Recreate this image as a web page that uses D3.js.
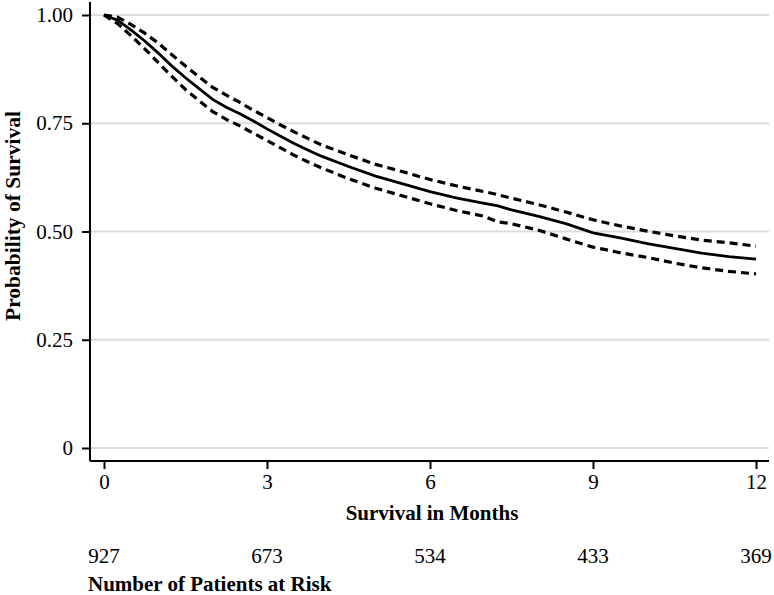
<!DOCTYPE html>
<html>
<head>
<meta charset="utf-8">
<script src="https://cdn.jsdelivr.net/npm/d3@7"></script>
<style>
  html, body { margin: 0; padding: 0; background: #fff; }
  svg { display: block; font-family: "Liberation Serif", "Times New Roman", serif; }
</style>
</head>
<body>
<script>
// ---- Data ----
const months = [0, 0.25, 0.5, 0.75, 1, 1.25, 1.5, 1.75, 2, 2.25, 2.5, 2.75, 3, 3.25, 3.5, 3.75, 4,
                4.5, 5, 5.5, 6, 6.5, 7, 7.25, 7.5, 8, 8.5, 9, 9.5, 10, 10.5, 11, 11.5, 12];
const survival = [1.0, 0.988, 0.965, 0.94, 0.912, 0.882, 0.855, 0.83, 0.805, 0.787, 0.772, 0.755, 0.737, 0.72, 0.703, 0.688, 0.674,
                  0.65, 0.628, 0.61, 0.592, 0.577, 0.565, 0.559, 0.55, 0.535, 0.518, 0.497, 0.485, 0.472, 0.461, 0.45, 0.442, 0.436];
const upperCI = [1.0, 0.995, 0.978, 0.958, 0.935, 0.908, 0.882, 0.857, 0.833, 0.815, 0.798, 0.78, 0.763, 0.746, 0.73, 0.715, 0.70,
                 0.677, 0.655, 0.638, 0.62, 0.605, 0.592, 0.585, 0.577, 0.562, 0.545, 0.527, 0.513, 0.501, 0.49, 0.48, 0.474, 0.466];
const lowerCI = [1.0, 0.98, 0.952, 0.922, 0.89, 0.858, 0.828, 0.802, 0.777, 0.759, 0.744, 0.727, 0.71, 0.693, 0.676, 0.661, 0.647,
                 0.622, 0.60, 0.582, 0.564, 0.548, 0.535, 0.522, 0.518, 0.503, 0.483, 0.464, 0.451, 0.44, 0.427, 0.416, 0.408, 0.402];
const xTicks = [0, 3, 6, 9, 12];
const yTicks = [0, 0.25, 0.5, 0.75, 1];
const yTickLabels = ["0", "0.25", "0.50", "0.75", "1.00"];
const atRisk = [927, 673, 534, 433, 369];

const W = 774, H = 595;
const svg = d3.select("body").append("svg").attr("width", W).attr("height", H);

const x = d3.scaleLinear().domain([0, 12]).range([104, 756]);
const y = d3.scaleLinear().domain([0, 1]).range([448, 15]);
const axisLeftX = 90, axisBottomY = 461, plotRight = 769, plotTop = 2;

// gridlines
svg.append("g").selectAll("line").data(yTicks).join("line")
  .attr("x1", axisLeftX).attr("x2", plotRight)
  .attr("y1", d => y(d)).attr("y2", d => y(d))
  .attr("stroke", "#dcdcdc").attr("stroke-width", 2);

// y axis
const yAxis = d3.axisLeft(y).tickValues(yTicks).tickSize(8).tickSizeOuter(0)
  .tickFormat((d, i) => yTickLabels[i]);
const gy = svg.append("g").attr("transform", `translate(${axisLeftX},0)`).call(yAxis);
gy.select(".domain").attr("d", `M0,${plotTop}V${axisBottomY}`).attr("stroke", "#000").attr("stroke-width", 2);
gy.selectAll(".tick line").attr("stroke", "#000").attr("stroke-width", 2);
gy.selectAll(".tick text").attr("x", -17).attr("font-size", 21).attr("fill", "#000")
  .attr("font-family", "Liberation Serif");

// x axis
const xAxis = d3.axisBottom(x).tickValues(xTicks).tickSize(8).tickSizeOuter(0);
const gx = svg.append("g").attr("transform", `translate(0,${axisBottomY})`).call(xAxis);
gx.select(".domain").attr("d", `M${axisLeftX},0H${plotRight}`).attr("stroke", "#000").attr("stroke-width", 2);
gx.selectAll(".tick line").attr("stroke", "#000").attr("stroke-width", 2);
gx.selectAll(".tick text").attr("y", 13).attr("font-size", 21).attr("fill", "#000")
  .attr("font-family", "Liberation Serif");

// curves
const mk = arr => d3.line().x((d, i) => x(months[i])).y(d => y(d)).curve(d3.curveLinear)(arr);
svg.append("path").attr("d", mk(upperCI)).attr("fill", "none").attr("stroke", "#000")
  .attr("stroke-width", 3.2).attr("stroke-dasharray", "8,5");
svg.append("path").attr("d", mk(lowerCI)).attr("fill", "none").attr("stroke", "#000")
  .attr("stroke-width", 3.2).attr("stroke-dasharray", "8,5");
svg.append("path").attr("d", mk(survival)).attr("fill", "none").attr("stroke", "#000")
  .attr("stroke-width", 2.8);

// axis titles
svg.append("text").attr("x", 432).attr("y", 520).attr("text-anchor", "middle")
  .attr("font-size", 21).attr("font-weight", "bold").text("Survival in Months");
svg.append("text").attr("transform", "translate(20,216) rotate(-90)").attr("text-anchor", "middle")
  .attr("font-size", 21.5).attr("font-weight", "bold").text("Probability of Survival");

// at-risk numbers
svg.append("g").selectAll("text").data(atRisk).join("text")
  .attr("x", (d, i) => x(xTicks[i])).attr("y", 563).attr("text-anchor", "middle")
  .attr("font-size", 21).text(d => d);
svg.append("text").attr("x", 88).attr("y", 591)
  .attr("font-size", 21).attr("font-weight", "bold").text("Number of Patients at Risk");
</script>
</body>
</html>
